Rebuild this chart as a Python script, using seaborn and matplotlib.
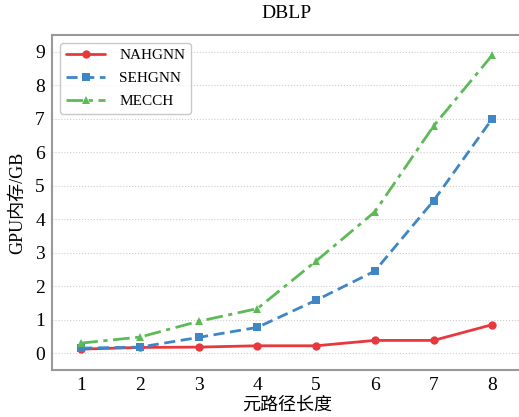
import pandas as pd
import seaborn as sns
import matplotlib.pyplot as plt

# metapath length vs GPU memory (GB)
lengths = [1, 2, 3, 4, 5, 6, 7, 8]
nahgnn = [0.12, 0.17, 0.18, 0.22, 0.22, 0.38, 0.38, 0.85]
sehgnn = [0.15, 0.18, 0.47, 0.77, 1.58, 2.45, 4.55, 7.0]
mecch = [0.30, 0.48, 0.95, 1.33, 2.75, 4.22, 6.78, 8.9]
models = ['NAHGNN', 'SEHGNN', 'MECCH']

df = pd.DataFrame({
    'len': lengths * 3,
    'mem': nahgnn + sehgnn + mecch,
    'model': [m for m in models for _ in lengths],
})

sns.set_style('white')
plt.rcParams['font.family'] = ['Liberation Serif', 'Noto Sans CJK SC', 'DejaVu Sans']
plt.rcParams['text.color'] = 'black'
plt.rcParams['axes.labelcolor'] = 'black'

fig = plt.figure(figsize=(5.19, 4.17), dpi=100)
ax = fig.add_axes([0.1, 0.113, 0.905, 0.803])

palette = {'NAHGNN': '#e8383d', 'SEHGNN': '#3f86c6', 'MECCH': '#5dbb57'}
dashes = {'NAHGNN': '', 'SEHGNN': (4, 2), 'MECCH': (6, 2, 1.5, 2)}
markers = {'NAHGNN': 'o', 'SEHGNN': 's', 'MECCH': '^'}

sns.lineplot(data=df, x='len', y='mem', hue='model', style='model',
             palette=palette, dashes=dashes, markers=markers,
             linewidth=2, markersize=6, markeredgewidth=0, ax=ax)

ax.set_xlim(0.5, 8.5)
ax.set_ylim(-0.5, 9.5)
ax.set_xticks(lengths)
ax.set_yticks(range(10))
ax.yaxis.grid(True, linestyle=':', color='#cccccc', linewidth=0.8)
ax.tick_params(labelsize=14, length=2, color='#999999', labelcolor='black', pad=3)
for s in ax.spines.values():
    s.set_color('#999999')
    s.set_linewidth(1.5)

ax.set_xlabel('元路径长度', fontsize=13, labelpad=2)
ax.set_ylabel('GPU内存/GB', fontsize=13, labelpad=6)
ax.set_title('DBLP', fontsize=14, pad=12)

ax.legend(title=None, loc='upper left', fontsize=11, frameon=True,
          edgecolor='#bbbbbb', fancybox=True, handlelength=2.6,
          handletextpad=0.9, labelspacing=0.6, borderaxespad=0.5)

fig.savefig('out.png', dpi=100)
